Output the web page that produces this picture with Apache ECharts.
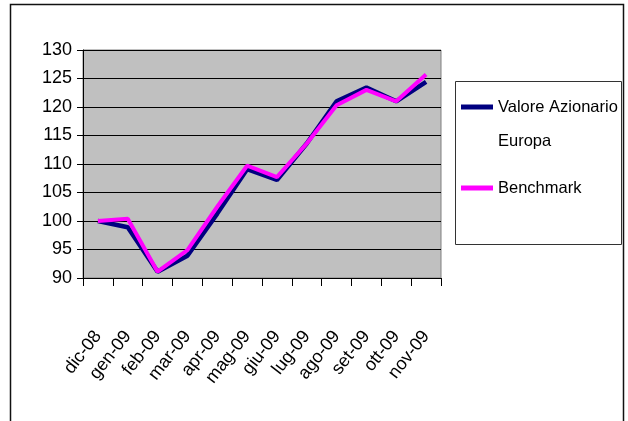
<!DOCTYPE html>
<html lang="it">
<head>
    <meta charset="UTF-8">
    <title>Valore Azionario Europa</title>
    <style>
        html, body { margin: 0; padding: 0; background: #fff; }
    </style>
</head>
<body>
<script src="https://cdn.jsdelivr.net/npm/echarts@6/dist/echarts.min.js"></script>
<div id="main" style="width: 628px;height:421px;"></div>

<script>
    var months = ['dic-08', 'gen-09', 'feb-09', 'mar-09', 'apr-09', 'mag-09',
        'giu-09', 'lug-09', 'ago-09', 'set-09', 'ott-09', 'nov-09'];
    var valore = [100, 98.9, 91.1, 93.9, 101.3, 109.1, 107.2, 113.6, 121.0, 123.4, 121.0, 124.4];
    var benchmark = [100, 100.4, 91.1, 94.9, 102.5, 109.7, 107.7, 113.6, 120.3, 123.0, 121.0, 125.7];
    var yTicks = {min: 90, max: 130, step: 5};

    var fnt = '"Liberation Sans", Arial, sans-serif';
    var name1 = 'Valore Azionario Europa';
    var name2 = 'Benchmark';

    var myChart = echarts.init(document.getElementById('main'));

    var option = {
        animation: false,
        backgroundColor: '#fff',
        grid: {
            left: 83,
            right: 187,
            top: 50,
            bottom: 143,
            show: true,
            backgroundColor: '#c0c0c0',
            borderColor: '#808080',
            borderWidth: 1
        },
        // due legende: la riga vuota in testa tiene la linea accanto a "Valore Azionario"
        legend: [{
            data: [name1],
            left: 461,
            top: 56,
            padding: 0,
            icon: 'rect',
            itemWidth: 32,
            itemHeight: 5,
            formatter: function () {
                return '\nValore Azionario\nEuropa';
            },
            textStyle: {
                fontFamily: fnt,
                fontSize: 16.5,
                color: '#000',
                lineHeight: 34
            }
        }, {
            data: [name2],
            left: 461,
            top: 178,
            padding: 0,
            icon: 'rect',
            itemWidth: 32,
            itemHeight: 5,
            textStyle: {
                fontFamily: fnt,
                fontSize: 16.5,
                color: '#000',
                lineHeight: 20
            }
        }],
        graphic: [{
            type: 'rect',
            shape: {x: 10.5, y: 4.5, width: 613, height: 430},
            style: {fill: 'none', stroke: '#111', lineWidth: 1.5},
            silent: true
        }, {
            type: 'rect',
            shape: {x: 455.5, y: 81.5, width: 166, height: 163},
            style: {fill: 'none', stroke: '#333', lineWidth: 1},
            silent: true
        }],
        xAxis: {
            type: 'category',
            data: months,
            boundaryGap: true,
            axisLine: {lineStyle: {color: '#000', width: 1}},
            axisTick: {show: true, length: 8, lineStyle: {color: '#000'}},
            axisLabel: {
                rotate: 52,
                margin: 55,
                interval: 0,
                fontFamily: fnt,
                fontSize: 18,
                color: '#000'
            },
            splitLine: {show: false}
        },
        yAxis: {
            type: 'value',
            min: yTicks.min,
            max: yTicks.max,
            interval: yTicks.step,
            axisLine: {show: true, lineStyle: {color: '#000', width: 1}},
            axisTick: {show: true, length: 6, lineStyle: {color: '#000'}},
            axisLabel: {
                margin: 11,
                fontFamily: fnt,
                fontSize: 18,
                color: '#000'
            },
            splitLine: {show: true, lineStyle: {color: '#000', width: 1}}
        },
        series: [{
            name: name1,
            type: 'line',
            data: valore,
            symbol: 'none',
            color: '#000080',
            lineStyle: {width: 4.5, color: '#000080'},
            z: 2
        }, {
            name: name2,
            type: 'line',
            data: benchmark,
            symbol: 'none',
            color: '#ff00ff',
            lineStyle: {width: 4, color: '#ff00ff'},
            z: 3
        }]
    };

    myChart.setOption(option);
</script>
</body>
</html>
